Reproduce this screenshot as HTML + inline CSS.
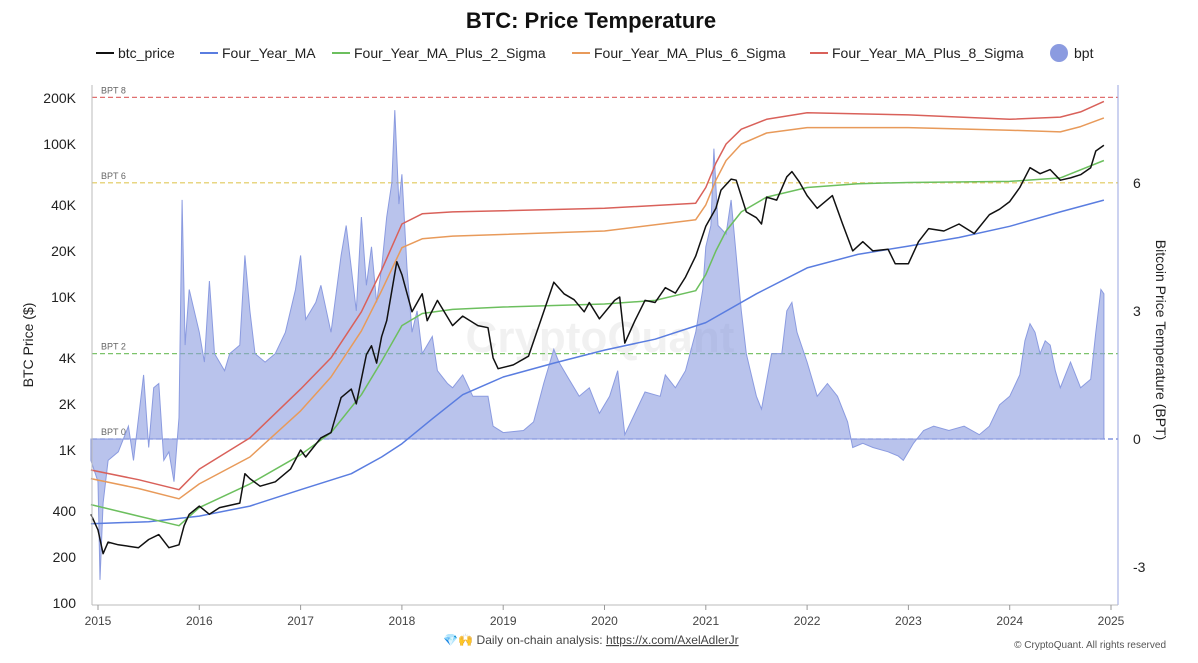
<!DOCTYPE html>
<html><head><meta charset="utf-8"><style>
body{margin:0;background:#fff;font-family:"Liberation Sans",sans-serif;}
svg text{font-family:"Liberation Sans",sans-serif;}
</style></head><body>
<svg id="c" width="1198" height="658" xmlns="http://www.w3.org/2000/svg">
<text x="591" y="28" text-anchor="middle" font-size="22" font-weight="bold" fill="#111">BTC: Price Temperature</text>
<text x="600" y="352" text-anchor="middle" font-size="44" fill="#000" opacity="0.05" font-weight="bold">CryptoQuant</text>
<g id="legend"></g>
<g id="grid"></g>
<g id="bptg"></g>
<g id="lines"></g>
<g id="axes"></g>
<text x="591" y="644" text-anchor="middle" font-size="12" fill="#444">💎🙌 Daily on-chain analysis: <tspan text-decoration="underline">https://x.com/AxelAdlerJr</tspan></text>
<text x="1166" y="648" text-anchor="end" font-size="10" fill="#555">© CryptoQuant. All rights reserved</text>
<text transform="translate(33,345) rotate(-90)" text-anchor="middle" font-size="14" fill="#222">BTC Price ($)</text>
<text transform="translate(1156,340) rotate(90)" text-anchor="middle" font-size="14" fill="#222">Bitcoin Price Temperature (BPT)</text>
</svg>
<script>
const priceT=[2014.93,2015.0,2015.05,2015.1,2015.2,2015.3,2015.4,2015.5,2015.6,2015.7,2015.8,2015.85,2015.9,2016.0,2016.1,2016.2,2016.4,2016.45,2016.5,2016.6,2016.75,2016.9,2017.0,2017.05,2017.2,2017.3,2017.4,2017.5,2017.55,2017.65,2017.7,2017.75,2017.8,2017.85,2017.95,2018.0,2018.1,2018.2,2018.25,2018.35,2018.5,2018.6,2018.75,2018.85,2018.9,2018.95,2019.1,2019.25,2019.4,2019.5,2019.6,2019.7,2019.8,2019.85,2019.95,2020.1,2020.15,2020.2,2020.3,2020.4,2020.5,2020.6,2020.7,2020.8,2020.9,2021.0,2021.1,2021.15,2021.25,2021.3,2021.4,2021.5,2021.55,2021.6,2021.7,2021.8,2021.85,2021.92,2022.0,2022.1,2022.25,2022.35,2022.45,2022.55,2022.65,2022.8,2022.87,2023.0,2023.1,2023.2,2023.35,2023.5,2023.65,2023.8,2023.9,2024.0,2024.1,2024.2,2024.3,2024.4,2024.5,2024.6,2024.7,2024.8,2024.85,2024.93];
const priceV=[380,300,210,250,240,235,230,260,280,230,240,320,380,430,380,420,450,700,650,580,620,750,1000,900,1200,1300,2200,2500,2000,4200,4800,3700,5500,7000,17000,14000,8000,10500,7000,9500,6500,7500,6500,6300,4000,3400,3600,4100,8000,12500,10500,9600,8000,9200,7200,9500,10000,5000,7000,9500,9200,11500,10600,13500,18500,29000,38000,50000,59000,58000,36000,33000,30000,45000,43000,61000,66000,57000,46000,38000,46000,30000,20000,23000,20000,20500,16500,16500,23000,28000,27000,30000,26000,34500,37500,42000,52000,70000,64000,68000,58000,60000,63000,70000,90000,98000];
const maT=[2014.93,2015.5,2016,2016.5,2017,2017.5,2017.8,2018,2018.3,2018.6,2019,2019.5,2020,2020.5,2021,2021.5,2022,2022.5,2023,2023.5,2024,2024.5,2024.93];
const maV=[330,340,370,430,550,700,900,1100,1600,2300,3000,3700,4500,5300,6800,10500,15500,19000,21500,24500,29000,36000,43000];
const s2T=[2014.93,2015.4,2015.8,2016,2016.5,2017,2017.3,2017.6,2017.8,2018.0,2018.2,2018.5,2019,2020,2020.5,2020.9,2021.0,2021.1,2021.2,2021.35,2021.6,2022,2022.5,2023,2024,2024.5,2024.93];
const s2V=[440,370,320,420,600,930,1300,2300,3800,6500,7800,8300,8600,9000,9500,11000,14000,20000,27000,36000,45000,52000,55000,56000,57000,60000,78000];
const s6T=[2014.93,2015.4,2015.8,2016,2016.5,2017,2017.3,2017.6,2017.8,2018.0,2018.2,2018.5,2020,2020.9,2021.0,2021.1,2021.2,2021.35,2021.6,2022,2023,2024,2024.5,2024.7,2024.93];
const s6V=[650,560,480,600,900,1800,3000,6000,11000,21000,24000,25000,27000,32000,40000,58000,78000,100000,118000,128000,128000,123000,120000,130000,148000];
const s8T=[2014.93,2015.4,2015.8,2016,2016.5,2017,2017.3,2017.6,2017.8,2018.0,2018.2,2018.5,2020,2020.9,2021.0,2021.1,2021.2,2021.35,2021.6,2022,2023,2024,2024.5,2024.7,2024.93];
const s8V=[740,640,550,750,1200,2500,4000,8000,15000,30000,35000,36000,38000,41000,52000,75000,100000,125000,145000,160000,155000,145000,150000,162000,190000];
const bptT=[2014.93,2015.0,2015.02,2015.05,2015.1,2015.2,2015.3,2015.35,2015.45,2015.5,2015.55,2015.6,2015.65,2015.7,2015.75,2015.8,2015.83,2015.86,2015.9,2016.0,2016.05,2016.1,2016.15,2016.25,2016.3,2016.4,2016.45,2016.5,2016.55,2016.65,2016.75,2016.85,2016.95,2017.0,2017.05,2017.15,2017.2,2017.3,2017.4,2017.45,2017.5,2017.55,2017.6,2017.65,2017.7,2017.75,2017.8,2017.85,2017.9,2017.93,2017.97,2018.0,2018.05,2018.1,2018.15,2018.2,2018.3,2018.35,2018.45,2018.5,2018.6,2018.7,2018.85,2018.9,2019.0,2019.2,2019.3,2019.4,2019.5,2019.55,2019.65,2019.75,2019.85,2019.95,2020.05,2020.13,2020.2,2020.3,2020.4,2020.55,2020.6,2020.7,2020.8,2020.9,2020.97,2021.0,2021.05,2021.08,2021.12,2021.2,2021.25,2021.3,2021.35,2021.4,2021.5,2021.55,2021.65,2021.75,2021.8,2021.85,2021.9,2022.0,2022.1,2022.2,2022.3,2022.4,2022.45,2022.55,2022.65,2022.8,2022.9,2022.95,2023.05,2023.15,2023.25,2023.4,2023.55,2023.7,2023.8,2023.9,2024.0,2024.1,2024.15,2024.2,2024.25,2024.3,2024.35,2024.4,2024.45,2024.5,2024.55,2024.6,2024.7,2024.8,2024.85,2024.9,2024.93];
const bptV=[-0.5,-1,-3.3,-1.5,-0.5,-0.3,0.3,-0.5,1.5,-0.2,1.2,1.3,-0.5,-0.3,-1,0.5,5.6,2.2,3.5,2.5,1.8,3.7,2.0,1.6,2.0,2.2,4.3,3.0,2.0,1.8,2.0,2.5,3.5,4.3,2.8,3.2,3.6,2.5,4.3,5.0,4.0,3.0,5.2,3.6,4.5,3.2,4.0,5.2,6.0,7.7,5.5,6.2,4.0,2.5,3.0,2.0,2.4,1.6,1.3,1.2,1.5,1.0,1.0,0.3,0.15,0.2,0.4,1.3,2.1,1.8,1.4,1.0,1.2,0.6,1.0,1.6,0.1,0.6,1.1,1.0,1.5,1.2,1.6,2.5,3.5,4.5,5.0,6.8,5.0,4.8,5.6,4.3,3.0,2.0,1.0,0.7,2.0,2.0,3.0,3.2,2.5,1.8,1.0,1.3,1.0,0.4,-0.2,-0.1,-0.2,-0.3,-0.4,-0.5,-0.1,0.2,0.3,0.2,0.3,0.1,0.3,0.8,1.0,1.5,2.3,2.7,2.5,2.0,2.3,2.2,1.6,1.2,1.5,1.8,1.2,1.4,2.5,3.5,3.4];
const leftTicks=[100,200,400,1000,2000,4000,10000,20000,40000,100000,200000];
const leftLabels=["100","200","400","1K","2K","4K","10K","20K","40K","100K","200K"];
const rightTicks=[-3,0,3,6];
const yearTicks=[2015,2016,2017,2018,2019,2020,2021,2022,2023,2024,2025];
const bptLevels=[0,2,6,8];
const bptColors=["#6b7fd7","#7cc36b","#e0c85a","#e07070"];

const NS="http://www.w3.org/2000/svg";
const X=t=>98+(t-2015)*101.3;
const Y=v=>603-153*Math.log10(v/100);
const B=v=>439-42.7*v;
function mk(tag,attrs,parent){const e=document.createElementNS(NS,tag);for(const k in attrs)e.setAttribute(k,attrs[k]);parent.appendChild(e);return e;}
const grid=document.getElementById('grid'),axes=document.getElementById('axes'),lines=document.getElementById('lines'),bg=document.getElementById('bptg'),lg=document.getElementById('legend');

let a=mk('line',{x1:92,y1:85,x2:92,y2:605,stroke:'#bbb'},axes);


a=mk('line',{x1:1118,y1:85,x2:1118,y2:605,stroke:'#9aa6e0'},axes);


a=mk('line',{x1:92,y1:605,x2:1118,y2:605,stroke:'#bbb'},axes);


leftTicks.forEach((v,i)=>{const t=mk('text',{x:76,y:Y(v)+5,'text-anchor':'end','font-size':14,fill:'#222'},axes);t.textContent=leftLabels[i];

});
rightTicks.forEach(v=>{const t=mk('text',{x:1133,y:B(v)+5,'font-size':14,fill:'#222'},axes);t.textContent=v;

});
yearTicks.forEach(y=>{mk('line',{x1:X(y),y1:605,x2:X(y),y2:610,stroke:'#999'},axes);const t=mk('text',{x:X(y),y:625,'text-anchor':'middle','font-size':12,fill:'#444'},axes);t.textContent=y;

});
bptLevels.forEach((v,i)=>{const l=mk('line',{x1:92,y1:B(v),x2:1118,y2:B(v),stroke:bptColors[i],'stroke-dasharray':'5,3','stroke-width':1.2},grid);


const t=mk('text',{x:101,y:B(v)-4,'font-size':9,fill:'#666'},grid);t.textContent='BPT '+v;

});

let d='M'+X(bptT[0])+','+B(0);
bptT.forEach((t,i)=>d+='L'+X(t).toFixed(1)+','+B(bptV[i]).toFixed(1));
d+='L'+X(bptT[bptT.length-1])+','+B(0)+'Z';
let p=mk('path',{d:d,fill:'#8b9be0','fill-opacity':0.6,stroke:'#8b9be0','stroke-width':1},bg);



function line(T,V,col,w,name){let s='';T.forEach((t,i)=>s+=(i?'L':'M')+X(t).toFixed(1)+','+Y(V[i]).toFixed(1));
const e=mk('path',{d:s,fill:'none',stroke:col,'stroke-width':w,'stroke-linejoin':'round'},lines);

}
line(maT,maV,'#5a7de0',1.5,'four-year-ma-line');
line(s2T,s2V,'#6cbf5e',1.5,'ma-plus-2-sigma-line');
line(s6T,s6V,'#e89a5a',1.5,'ma-plus-6-sigma-line');
line(s8T,s8V,'#d9615a',1.5,'ma-plus-8-sigma-line');
line(priceT,priceV,'#111',1.5,'btc-price-line');

const items=[["btc_price","#111",'line'],["Four_Year_MA","#5a7de0",'line'],["Four_Year_MA_Plus_2_Sigma","#6cbf5e",'line'],["Four_Year_MA_Plus_6_Sigma","#e89a5a",'line'],["Four_Year_MA_Plus_8_Sigma","#d9615a",'line'],["bpt","#8b9be0",'dot']];
const lx=[96,200,332,572,810,1048];
items.forEach((it,i)=>{const g=mk('g',{},lg);


if(it[2]=='line')mk('line',{x1:lx[i],y1:53,x2:lx[i]+18,y2:53,stroke:it[1],'stroke-width':2},g);
else mk('circle',{cx:lx[i]+11,cy:53,r:9,fill:it[1]},g);
const t=mk('text',{x:lx[i]+(it[2]=='line'?22:26),y:58,'font-size':14,fill:'#222'},g);t.textContent=it[0];});
</script>
</body></html>
